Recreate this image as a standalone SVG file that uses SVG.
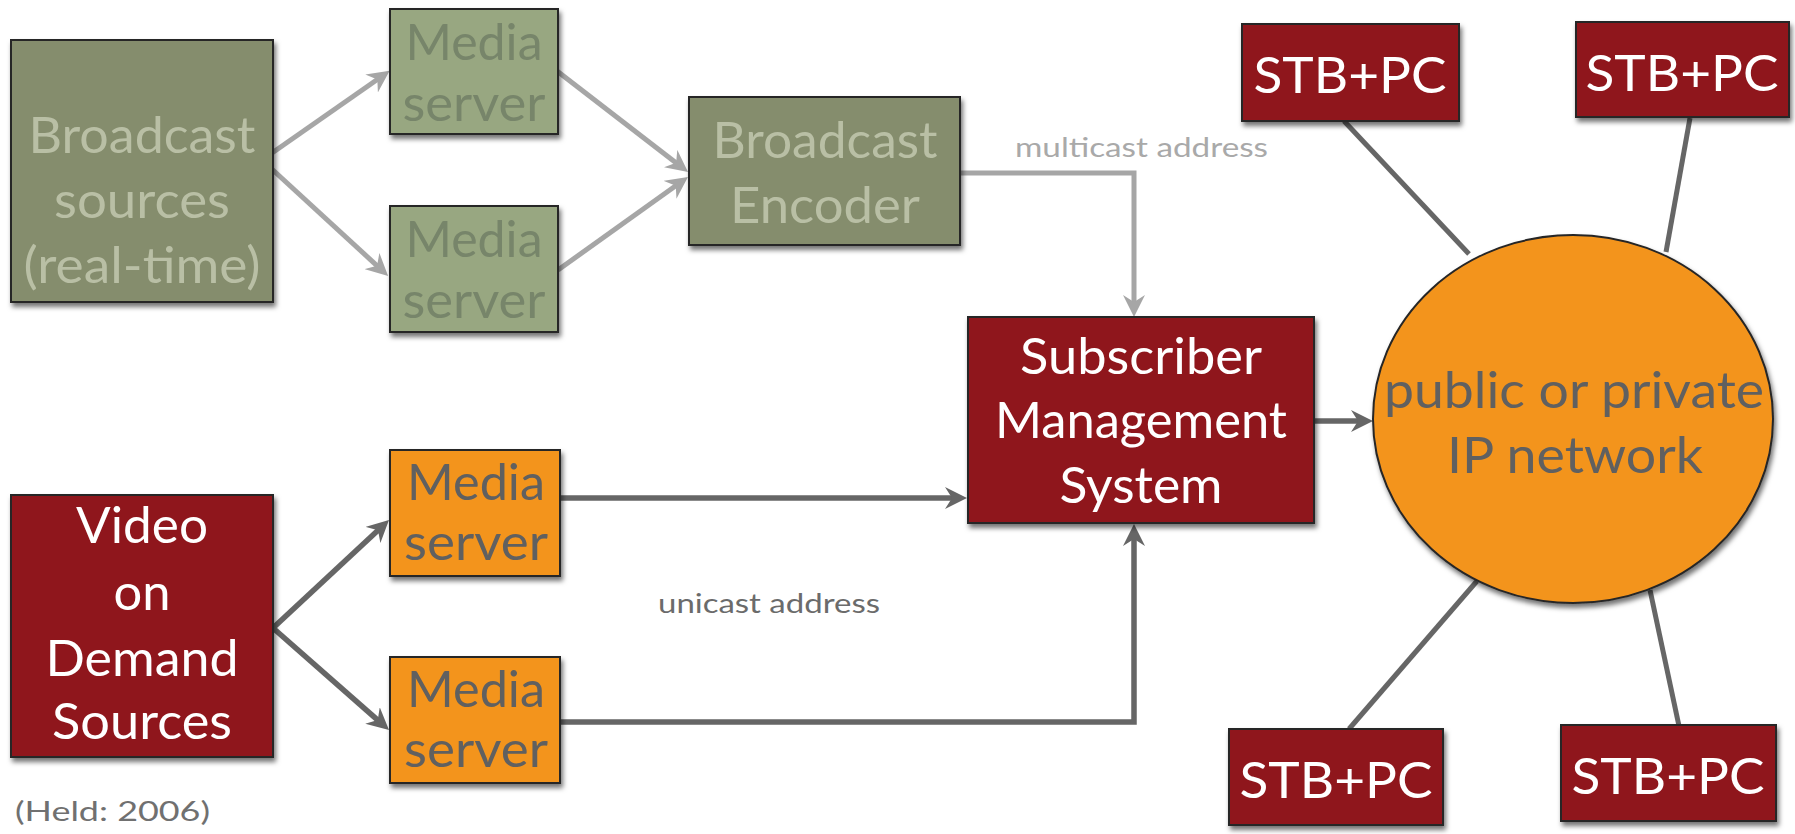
<svg xmlns="http://www.w3.org/2000/svg" width="1795" height="834" viewBox="0 0 1795 834">
  <defs>
    <filter id="shadow" x="-10%" y="-10%" width="130%" height="130%">
      <feDropShadow dx="2" dy="4" stdDeviation="2.5" flood-color="#000" flood-opacity="0.55"/>
    </filter>
    <marker id="arrowLight" markerUnits="userSpaceOnUse" markerWidth="22" markerHeight="22" refX="10" refY="11" orient="auto">
      <path d="M0,0 L22,11 L0,22 L7,11 Z" fill="#a6a6a6"/>
    </marker>
    <marker id="arrowDark" markerUnits="userSpaceOnUse" markerWidth="22" markerHeight="22" refX="10" refY="11" orient="auto">
      <path d="M0,0 L22,11 L0,22 L7,11 Z" fill="#666666"/>
    </marker>
    <style>
      .box { stroke: #262626; stroke-width: 2; filter: url(#shadow); }
      .red { fill: #8f181b; }
      .orange { fill: #f3941f; }
      .olive { fill: #858d6d; }
      .sage { fill: #98a781; }
      text { font-family: Lato, "Open Sans", "DejaVu Sans", sans-serif; text-anchor: middle; }
      .big { font-size: 51px; }
      .white { fill: #ffffff; }
      .pale { fill: #b9bfa5; }
      .moss { fill: #77856a; }
      .grey { fill: #606060; }
      .lightLine { fill: none; stroke: #a6a6a6; stroke-width: 5; marker-end: url(#arrowLight); }
      .darkLine { fill: none; stroke: #666666; stroke-width: 5.5; marker-end: url(#arrowDark); }
      .spoke { fill: none; stroke: #666666; stroke-width: 5; }
      .note { text-anchor: start; }
    </style>
  </defs>

  <g id="connectors">
    <!-- broadcast branch -->
    <line class="lightLine" x1="262" y1="160" x2="379.8" y2="77.7"/>
    <line class="lightLine" x1="262" y1="160" x2="379.3" y2="267.8"/>
    <line class="lightLine" x1="557" y1="71" x2="678.5" y2="164.7"/>
    <line class="lightLine" x1="558" y1="270" x2="678.2" y2="184"/>
    <path class="lightLine" d="M960,173 H1134 V305"/>
    <!-- video on demand branch -->
    <line class="darkLine" x1="273" y1="628" x2="380.2" y2="528.2"/>
    <line class="darkLine" x1="273" y1="628" x2="380" y2="722.1"/>
    <path class="darkLine" d="M560,498 H955"/>
    <path class="darkLine" d="M560,722 H1134 V536"/>
    <path class="darkLine" d="M1314,421 H1361"/>
    <!-- network spokes -->
    <line class="spoke" x1="1344" y1="121" x2="1469" y2="254"/>
    <line class="spoke" x1="1690" y1="118" x2="1666" y2="252"/>
    <line class="spoke" x1="1349" y1="729" x2="1477" y2="581"/>
    <line class="spoke" x1="1679" y1="726" x2="1650" y2="590"/>
  </g>

  <g id="labels">
    <text class="note" x="1015" y="157" font-size="27" fill="#a9a9a9" textLength="253" lengthAdjust="spacingAndGlyphs">multicast address</text>
    <text class="note" x="658" y="613" font-size="26" fill="#6b6b6b" textLength="222" lengthAdjust="spacingAndGlyphs">unicast address</text>
    <text class="note" x="15" y="821" font-size="26" fill="#707070" textLength="195" lengthAdjust="spacingAndGlyphs">(Held: 2006)</text>
  </g>

  <g id="broadcast-sources">
    <rect class="box olive" x="11" y="40" width="262" height="262"/>
    <text class="big pale" x="142" y="153" textLength="227" lengthAdjust="spacingAndGlyphs">Broadcast</text>
    <text class="big pale" x="142" y="218" textLength="176" lengthAdjust="spacingAndGlyphs">sources</text>
    <text class="big pale" x="142" y="283" textLength="237" lengthAdjust="spacingAndGlyphs">(real-time)</text>
  </g>

  <g id="media-server-b1">
    <rect class="box sage" x="390" y="9" width="168" height="125"/>
    <text class="big moss" x="474" y="60" textLength="137" lengthAdjust="spacingAndGlyphs">Media</text>
    <text class="big moss" x="474" y="121" textLength="143" lengthAdjust="spacingAndGlyphs">server</text>
  </g>

  <g id="media-server-b2">
    <rect class="box sage" x="390" y="206" width="168" height="126"/>
    <text class="big moss" x="474" y="257" textLength="137" lengthAdjust="spacingAndGlyphs">Media</text>
    <text class="big moss" x="474" y="318" textLength="143" lengthAdjust="spacingAndGlyphs">server</text>
  </g>

  <g id="broadcast-encoder">
    <rect class="box olive" x="689" y="97" width="271" height="148"/>
    <text class="big pale" x="825" y="158" textLength="225" lengthAdjust="spacingAndGlyphs">Broadcast</text>
    <text class="big pale" x="825" y="223" textLength="190" lengthAdjust="spacingAndGlyphs">Encoder</text>
  </g>

  <g id="subscriber-management">
    <rect class="box red" x="968" y="317" width="346" height="206"/>
    <text class="big white" x="1141" y="374" textLength="242" lengthAdjust="spacingAndGlyphs">Subscriber</text>
    <text class="big white" x="1141" y="438" textLength="292" lengthAdjust="spacingAndGlyphs">Management</text>
    <text class="big white" x="1141" y="503" textLength="163" lengthAdjust="spacingAndGlyphs">System</text>
  </g>

  <g id="vod-sources">
    <rect class="box red" x="11" y="495" width="262" height="262"/>
    <text class="big white" x="142" y="543" textLength="132" lengthAdjust="spacingAndGlyphs">Video</text>
    <text class="big white" x="142" y="610" textLength="57" lengthAdjust="spacingAndGlyphs">on</text>
    <text class="big white" x="142" y="676" textLength="193" lengthAdjust="spacingAndGlyphs">Demand</text>
    <text class="big white" x="142" y="739" textLength="180" lengthAdjust="spacingAndGlyphs">Sources</text>
  </g>

  <g id="media-server-v1">
    <rect class="box orange" x="390" y="450" width="170" height="126"/>
    <text class="big grey" x="476" y="500" textLength="138" lengthAdjust="spacingAndGlyphs">Media</text>
    <text class="big grey" x="476" y="560" textLength="144" lengthAdjust="spacingAndGlyphs">server</text>
  </g>

  <g id="media-server-v2">
    <rect class="box orange" x="390" y="657" width="170" height="126"/>
    <text class="big grey" x="476" y="707" textLength="138" lengthAdjust="spacingAndGlyphs">Media</text>
    <text class="big grey" x="476" y="767" textLength="144" lengthAdjust="spacingAndGlyphs">server</text>
  </g>

  <g id="ip-network">
    <ellipse class="box orange" cx="1573" cy="419" rx="200" ry="184"/>
    <text class="big grey" x="1574" y="408" textLength="380" lengthAdjust="spacingAndGlyphs">public or private</text>
    <text class="big grey" x="1575" y="473" textLength="256" lengthAdjust="spacingAndGlyphs">IP network</text>
  </g>

  <g id="stb-top-left">
    <rect class="box red" x="1242" y="24" width="217" height="97"/>
    <text class="big white" x="1350" y="93" textLength="193" lengthAdjust="spacingAndGlyphs">STB+PC</text>
  </g>

  <g id="stb-top-right">
    <rect class="box red" x="1576" y="22" width="213" height="95"/>
    <text class="big white" x="1682" y="91" textLength="193" lengthAdjust="spacingAndGlyphs">STB+PC</text>
  </g>

  <g id="stb-bottom-left">
    <rect class="box red" x="1229" y="729" width="214" height="96"/>
    <text class="big white" x="1336" y="798" textLength="193" lengthAdjust="spacingAndGlyphs">STB+PC</text>
  </g>

  <g id="stb-bottom-right">
    <rect class="box red" x="1561" y="725" width="215" height="96"/>
    <text class="big white" x="1668" y="794" textLength="193" lengthAdjust="spacingAndGlyphs">STB+PC</text>
  </g>
</svg>
